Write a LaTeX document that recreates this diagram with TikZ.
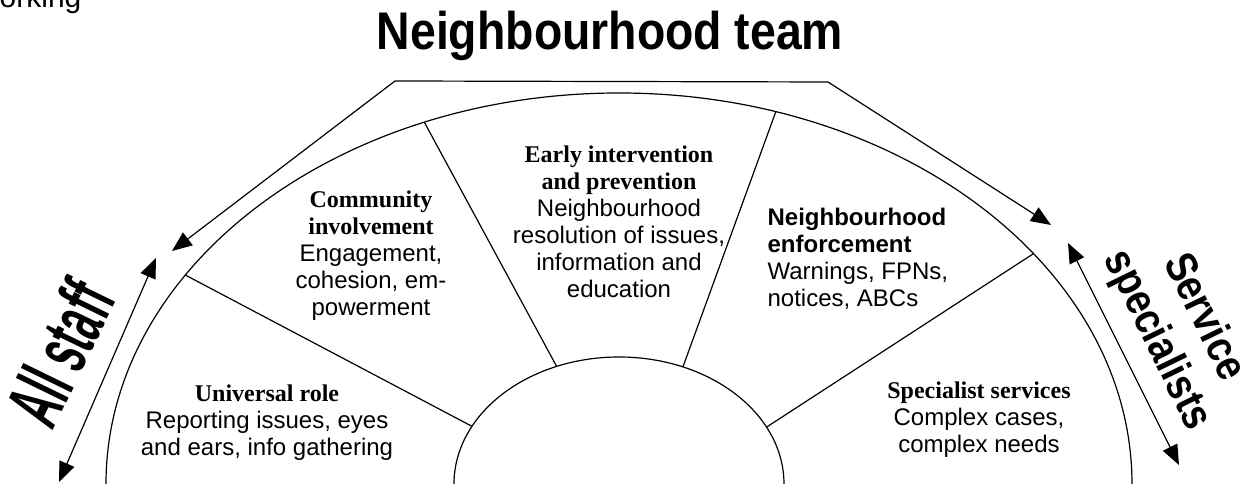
\documentclass[tikz,border=0pt]{standalone}
\usepackage{fontspec}
\setmainfont{Liberation Serif}
\setsansfont{Liberation Sans}
\usetikzlibrary{arrows.meta}

\newcommand{\hd}[1]{{\rmfamily\bfseries #1}}

\begin{document}
\begin{tikzpicture}[x=0.75pt, y=0.75pt, line width=0.9pt, >={Triangle[length=15pt, width=12pt]},
  every node/.style={inner sep=0pt},
  seg/.style={align=center, font=\sffamily\fontsize{18}{20.25}\selectfont},
  side/.style={align=center, font=\sffamily\bfseries\fontsize{33}{39}\selectfont}]

  \useasboundingbox (-619,0) rectangle (639,484);

  % Rings
  \draw (-513,0) arc (180:0:513 and 391);
  \draw (-165,0) arc (180:0:165 and 127);

  % Spokes
  \coordinate (o1) at (147.7:513 and 391);
  \coordinate (o2) at (112.3:513 and 391);
  \coordinate (o3) at (72.2:513 and 391);
  \coordinate (o4) at (36.1:513 and 391);
  \coordinate (i1) at (153:165 and 127);
  \coordinate (i2) at (112.2:165 and 127);
  \coordinate (i3) at (67.2:165 and 127);
  \coordinate (i4) at (26.6:165 and 127);
  \draw (i1) -- (o1);
  \draw (i2) -- (o2);
  \draw (i3) -- (o3);
  \draw (i4) -- (o4);

  % Sector texts
  \node (univ) [seg] at (-352,61) {\hd{Universal role}\\ Reporting issues, eyes\\ and ears, info gathering};
  \node (comm) [seg] at (-248,228) {\hd{Community}\\ \hd{involvement}\\ Engagement,\\ cohesion, em-\\ powerment};
  \node (early) [seg] at (0,262) {\hd{Early intervention}\\ \hd{and prevention}\\ Neighbourhood\\ resolution of issues,\\ information and\\ education};
  \node (enf) [seg, align=left, anchor=west] at (148,225) {\textbf{Neighbourhood}\\ \textbf{enforcement}\\ Warnings, FPNs,\\ notices, ABCs};
  \node (spec) [seg] at (360,64) {\hd{Specialist services}\\ Complex cases,\\ complex needs};

  % Labels round the outside
  \node (work) [anchor=base east, font=\sffamily\fontsize{22.5}{27}\selectfont] at (-537,476) {Working};
  \node (team) [anchor=base, font=\sffamily\bfseries\fontsize{39.75}{44}\selectfont] at (-9,434) {\scalebox{0.875}[1]{Neighbourhood team}};
  \node (all) [rotate=64, font=\sffamily\bfseries\fontsize{58}{62}\selectfont] at (-559,131) {\scalebox{0.52}[1]{All staff}};
  \node (serv) [side, rotate=-64] at (561,155) {\scalebox{0.86}[1]{Service}\\ \scalebox{0.86}[1]{specialists}};

  % Arrows
  \coordinate (teamL) at (-447,233);
  \coordinate (teamNW) at (-224,403);
  \coordinate (teamNE) at (209,402);
  \coordinate (teamR) at (432,259);
  \draw[<->] (teamL) -- (teamNW) -- (teamNE) -- (teamR);

  \coordinate (allT) at (-463,226);
  \coordinate (allB) at (-560,2);
  \draw[<->] (allT) -- (allB);

  \coordinate (servT) at (449,241);
  \coordinate (servB) at (560,19);
  \draw[<->] (servT) -- (servB);

\end{tikzpicture}
\end{document}
